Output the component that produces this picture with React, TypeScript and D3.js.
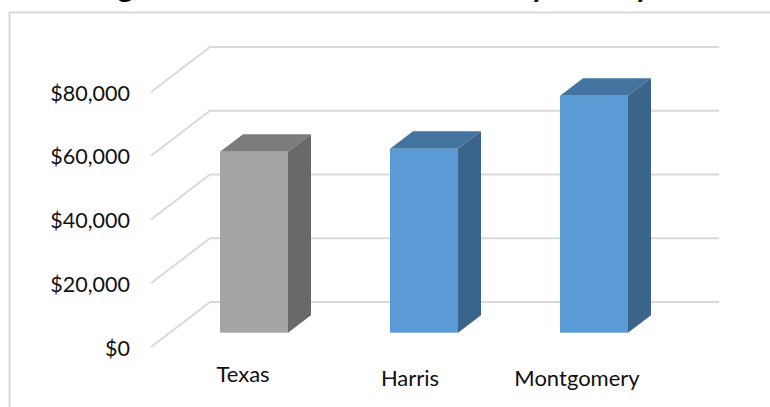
import React from "react";
import * as d3 from "d3";

const categories = ["Texas", "Harris", "Montgomery"];
const incomes = [56800, 57700, 74300];
const frontColors = ["#A5A5A5", "#5B9BD5", "#5B9BD5"];
const topColors = ["#7C7C7C", "#44749F", "#44749F"];
const sideColors = ["#696969", "#3A6489", "#3A6489"];
const labelCenters = [243, 410, 577];
const labelBaselines = [382, 386, 386];
const yTicks = [0, 20000, 40000, 60000, 80000];
const titleText = "Average Annual Household Income by County";

const W = 770;
const H = 407;
const FONT = "Lato, 'Open Sans', sans-serif";

const y = d3.scaleLinear().domain([0, 80000]).range([347, 92]);
const x = d3.scaleBand<string>().domain(categories).range([169, 679]).paddingInner(0.6).paddingOuter(0.3);
const fmt = (v: number) => "$" + d3.format(",")(v);

const wallDx = 59;
const wallDy = -45;
const wallRight = 719;
const barDepthX = 23;
const barDepthY = -17.5;
const barLift = -14.3;
const line = d3.line();

export default function App() {
  return (
    <svg width={W} height={H} style={{ position: "absolute", left: 0, top: 0, background: "#fff" }}>
      <path d={`M9.5,${H}V12.5H${W}`} fill="none" stroke="#d9d9d9" strokeWidth={2} />
      <text x={40} y={-3} fontFamily={FONT} fontWeight={700} fontSize={30} fill="#000">{titleText}</text>
      {yTicks.map((t) => (
        <g key={t}>
          <path
            d={line([[151, y(t)], [151 + wallDx, y(t) + wallDy], [wallRight, y(t) + wallDy]])!}
            fill="none" stroke="#d9d9d9" strokeWidth={2}
          />
          <text x={130} y={y(t) + 8.5} textAnchor="end" fontFamily={FONT} fontSize={21.5} fill="#111">{fmt(t)}</text>
        </g>
      ))}
      {categories.map((c, i) => {
        const x0 = x(c)!;
        const x1 = x0 + x.bandwidth();
        const base = y(0) + barLift;
        const top = y(incomes[i]) + barLift;
        return (
          <g key={c}>
            <path d={line([[x0, top], [x0 + barDepthX, top + barDepthY], [x1 + barDepthX, top + barDepthY], [x1, top]])! + "Z"} fill={topColors[i]} />
            <path d={line([[x1, top], [x1 + barDepthX, top + barDepthY], [x1 + barDepthX, base + barDepthY], [x1, base]])! + "Z"} fill={sideColors[i]} />
            <rect x={x0} y={top} width={x.bandwidth()} height={base - top} fill={frontColors[i]} />
            <text x={labelCenters[i]} y={labelBaselines[i]} textAnchor="middle" fontFamily={FONT} fontSize={22} fill="#111">{c}</text>
          </g>
        );
      })}
    </svg>
  );
}
